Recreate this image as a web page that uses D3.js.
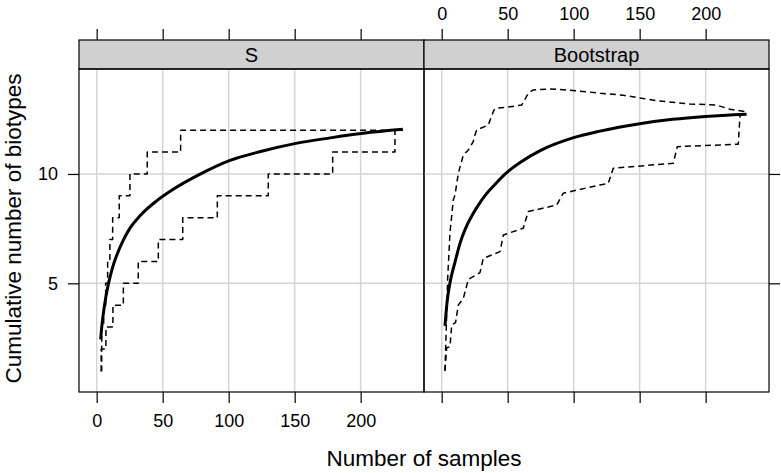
<!DOCTYPE html>
<html>
<head>
<meta charset="utf-8">
<script src="https://cdn.jsdelivr.net/npm/d3@7"></script>
<style>
  html, body { margin: 0; padding: 0; background: #ffffff; }
  svg { display: block; font-family: "Liberation Sans", Arial, sans-serif; }
</style>
</head>
<body>
<svg id="chart" width="781" height="473"></svg>
<script>
// ---------- data ----------
const panelNames = ["S", "Bootstrap"];
const xTicks = [0, 50, 100, 150, 200];
const yTicks = [5, 10];

// Panel "S": step curves (value starts at x)
const sLowerX = [3, 3.8, 7, 12.3, 20.2, 31.5, 46.7, 65.2, 91.4, 130, 178.8, 226, 232];
const sLowerY = [1, 2, 3, 4, 5, 6, 7, 8, 9, 10, 11, 12, 12];
const sUpperX = [3, 3.4, 3.8, 5.3, 6.8, 8.3, 10, 12.1, 17.1, 25.2, 38.3, 63.6, 232];
const sUpperY = [1, 2, 3, 4, 5, 6, 7, 8, 9, 10, 11, 12, 12];
const sMeanX = [3, 4, 5, 7, 9, 12, 15, 20, 25, 33, 45, 58, 78, 101, 125, 151, 177, 202, 232];
const sMeanY = [2.44, 3.1, 3.6, 4.4, 5.0, 5.72, 6.25, 6.95, 7.5, 8.1, 8.75, 9.3, 9.98, 10.62, 11.04, 11.4, 11.65, 11.86, 12.04];

// Panel "Bootstrap"
const bMeanX = [2.5, 4, 6.3, 10, 14, 18, 23, 28, 34, 40, 49, 60, 75, 100, 120, 150, 175, 200, 231];
const bMeanY = [3.05, 4.1, 5.03, 5.95, 6.85, 7.5, 8.1, 8.6, 9.1, 9.5, 10.05, 10.55, 11.08, 11.66, 11.96, 12.3, 12.5, 12.63, 12.73];
const bUpperX = [2.5, 3.5, 4.5, 6.3, 8.8, 10.1, 12.6, 16.4, 20.2, 23.9, 25.2, 26.5, 35.3, 39.1, 40.4, 49.2, 60.6, 65.6, 69.4, 82, 94.7, 109.8, 119.9, 137.6, 162.9, 188.1, 208.3, 218.4, 229.8];
const bUpperY = [1, 3, 5.18, 7.33, 8.81, 9.04, 10.03, 10.87, 11.1, 11.48, 11.78, 12.01, 12.24, 12.85, 13.0, 13.05, 13.15, 13.69, 13.84, 13.89, 13.84, 13.76, 13.69, 13.6, 13.35, 13.2, 13.15, 12.96, 12.85];
const bLowerX = [2.5, 3.8, 6.3, 7.6, 10.5, 12.6, 16.4, 20.2, 29, 31.5, 44.2, 46.7, 61.8, 65.6, 87.1, 92.1, 119.9, 126.2, 130, 175.5, 178.5, 224.7, 226, 227.3];
const bLowerY = [1, 2.06, 2.1, 3.1, 3.2, 4.01, 4.31, 5.18, 5.49, 6.14, 6.45, 7.21, 7.52, 8.28, 8.58, 9.12, 9.5, 9.57, 10.26, 10.49, 11.25, 11.36, 12.62, 12.77];

const zip = (xs, ys) => xs.map((x, i) => ({x: x, y: ys[i]}));

// ---------- layout ----------
const svg = d3.select("#chart");
const pTop = 69, pBottom = 392, stripTop = 40;
const panelW = 345;
const panelLefts = [79, 424];
const xDomain = [-13.4, 248];
const yDomain = [0.03, 14.8];
const yScale = d3.scaleLinear().domain(yDomain).range([pBottom, pTop]);
const xScales = panelLefts.map(l => d3.scaleLinear().domain(xDomain).range([l, l + panelW]));

const gridCol = "#d4d4d4";
const tickFont = 18;

const panels = [
  {name: panelNames[0], lines: [
    {d: zip(sUpperX, sUpperY), step: true, dash: true},
    {d: zip(sLowerX, sLowerY), step: true, dash: true},
    {d: zip(sMeanX, sMeanY), step: false, dash: false}
  ]},
  {name: panelNames[1], lines: [
    {d: zip(bUpperX, bUpperY), step: false, dash: true},
    {d: zip(bLowerX, bLowerY), step: false, dash: true},
    {d: zip(bMeanX, bMeanY), step: false, dash: false}
  ]}
];

panels.forEach((p, i) => {
  const x = xScales[i];
  const L = panelLefts[i];
  const g = svg.append("g");
  const cid = "clip" + i;
  svg.append("clipPath").attr("id", cid).append("rect")
    .attr("x", L).attr("y", pTop).attr("width", panelW).attr("height", pBottom - pTop);
  // grid
  g.selectAll(".gx").data(xTicks).enter().append("line")
    .attr("x1", d => x(d)).attr("x2", d => x(d))
    .attr("y1", pTop).attr("y2", pBottom)
    .attr("stroke", gridCol).attr("stroke-width", 1.5);
  g.selectAll(".gy").data(yTicks).enter().append("line")
    .attr("x1", L).attr("x2", L + panelW)
    .attr("y1", d => yScale(d)).attr("y2", d => yScale(d))
    .attr("stroke", gridCol).attr("stroke-width", 1.5);
  // lines
  const lg = g.append("g").attr("clip-path", `url(#${cid})`);
  p.lines.forEach(l => {
    const gen = d3.line().x(d => x(d.x)).y(d => yScale(d.y))
      .curve(l.step ? d3.curveStepAfter : (l.dash ? d3.curveLinear : d3.curveMonotoneX));
    lg.append("path").attr("d", gen(l.d))
      .attr("fill", "none").attr("stroke", "#000")
      .attr("stroke-width", l.dash ? 1.5 : 3)
      .attr("stroke-dasharray", l.dash ? "6,4" : null)
      .attr("stroke-linejoin", "round");
  });
  // strip
  g.append("rect").attr("x", L).attr("y", stripTop).attr("width", panelW).attr("height", pTop - stripTop)
    .attr("fill", "#d0d0d0").attr("stroke", "#000").attr("stroke-width", 1.2);
  g.append("text").attr("x", L + panelW / 2).attr("y", (stripTop + pTop) / 2)
    .attr("text-anchor", "middle").attr("dominant-baseline", "central")
    .attr("font-size", 20).text(p.name);
  // panel border
  g.append("rect").attr("x", L).attr("y", pTop).attr("width", panelW).attr("height", pBottom - pTop)
    .attr("fill", "none").attr("stroke", "#000").attr("stroke-width", 1.2);

  const topAxis = d3.axisTop(x).tickValues(xTicks).tickSizeOuter(0).tickSizeInner(11).tickPadding(9)
    .tickFormat(i === 1 ? d3.format("d") : () => "");
  const ta = svg.append("g").attr("transform", `translate(0,${stripTop})`).call(topAxis);
  const botAxis = d3.axisBottom(x).tickValues(xTicks).tickSizeOuter(0).tickSizeInner(11).tickPadding(11)
    .tickFormat(i === 0 ? d3.format("d") : () => "");
  const ba = svg.append("g").attr("transform", `translate(0,${pBottom})`).call(botAxis);
  [ta, ba].forEach(a => {
    a.select(".domain").remove();
    a.selectAll(".tick line").attr("stroke", "#000").attr("stroke-width", 1.2);
    a.selectAll(".tick text").attr("font-size", tickFont).attr("fill", "#000")
      .attr("font-family", "Liberation Sans, Arial, sans-serif");
  });
});

const yl = d3.axisLeft(yScale).tickValues(yTicks).tickSizeOuter(0).tickSizeInner(11).tickPadding(10).tickFormat(d3.format("d"));
const yr = d3.axisRight(yScale).tickValues(yTicks).tickSizeOuter(0).tickSizeInner(11).tickFormat(() => "");
const yla = svg.append("g").attr("transform", `translate(${panelLefts[0]},0)`).call(yl);
const yra = svg.append("g").attr("transform", `translate(${panelLefts[1] + panelW},0)`).call(yr);
[yla, yra].forEach(a => {
  a.select(".domain").remove();
  a.selectAll(".tick line").attr("stroke", "#000").attr("stroke-width", 1.2);
  a.selectAll(".tick text").attr("font-size", tickFont).attr("fill", "#000")
    .attr("font-family", "Liberation Sans, Arial, sans-serif");
});

svg.append("text").attr("x", 424).attr("y", 466).attr("text-anchor", "middle")
  .attr("font-size", 22.5).text("Number of samples");
svg.append("text").attr("transform", `translate(21,${(pTop + pBottom) / 2 - 2}) rotate(-90)`)
  .attr("text-anchor", "middle").attr("font-size", 22.5).text("Cumulative number of biotypes");
</script>
</body>
</html>
